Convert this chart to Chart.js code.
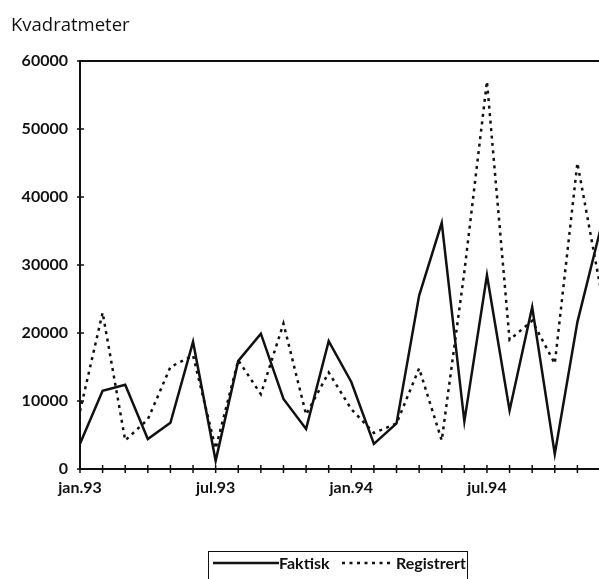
<!DOCTYPE html>
<html>
<head>
<meta charset="utf-8">
<script src="https://cdn.jsdelivr.net/npm/chart.js@4.4.1/dist/chart.umd.min.js"></script>
<style>
  html, body { margin: 0; padding: 0; background: #fff; overflow: hidden; width: 599px; height: 579px; }
  #wrap { position: absolute; left: 0; top: 0; width: 620px; height: 579px; }
  #title { position: absolute; left: 11px; top: 12px; font-family: "Open Sans", sans-serif; font-size: 18.5px; color: #111; line-height: 24px; }
  #legend { position: absolute; left: 208px; top: 551px; width: 260px; height: 40px; border: 1.5px solid #111; box-sizing: border-box; font-family: "Lato", "Open Sans", sans-serif; font-weight: bold; font-size: 16px; color: #111; }
  #legend .item { position: absolute; top: 1px; line-height: 20px; }
  #legend svg { position: absolute; }
</style>
</head>
<body>
<div id="wrap"><canvas id="c" width="620" height="579"></canvas></div>
<div id="title">Kvadratmeter</div>
<div id="legend">
  <svg style="left:4px;top:8px" width="66" height="6"><line x1="0" y1="3" x2="66" y2="3" stroke="#111" stroke-width="2.5"/></svg>
  <span class="item" style="left:70px">Faktisk</span>
  <svg style="left:131px;top:8px" width="54" height="6"><line x1="2" y1="3" x2="54" y2="3" stroke="#111" stroke-width="2.5" stroke-dasharray="3 4.5"/></svg>
  <span class="item" style="left:187px">Registrert</span>
</div>
<script>
const months = ['jan.93','feb.93','mar.93','apr.93','mai.93','jun.93','jul.93','aug.93','sep.93','okt.93','nov.93','des.93',
                'jan.94','feb.94','mar.94','apr.94','mai.94','jun.94','jul.94','aug.94','sep.94','okt.94','nov.94','des.94'];
const shownTickLabels = ['jan.93','jul.93','jan.94','jul.94'];
const faktisk =    [3700, 11500, 12400, 4400, 6800, 18700, 1200, 15900, 19900, 10300, 5900, 18800,
                    12800, 3700, 6700, 25500, 36200, 7000, 28500, 8600, 23800, 2200, 21600, 35000];
const registrert = [8500, 23000, 4200, 7300, 15000, 16700, 3000, 16000, 11000, 21400, 8000, 14200,
                    8800, 5300, 6700, 14800, 4200, 29000, 57000, 19000, 21800, 15500, 45000, 27000];
const yTicks = [0, 10000, 20000, 30000, 40000, 50000, 60000];

const tickFont = { family: 'Lato, "Open Sans", sans-serif', weight: 'bold', size: 16 };

const axisDecor = {
  id: 'axisDecor',
  afterDraw(chart) {
    const ctx = chart.ctx, a = chart.chartArea;
    const xs = chart.scales.x, ys = chart.scales.y;
    ctx.save();
    ctx.strokeStyle = '#111';
    ctx.lineWidth = 2;
    ctx.beginPath();
    ctx.moveTo(a.left - 1, a.top);
    ctx.lineTo(chart.width, a.top);
    ctx.stroke();
    ctx.lineWidth = 1.5;
    ctx.beginPath();
    for (let i = 0; i < months.length; i++) {
      const x = xs.getPixelForTick(i);
      ctx.moveTo(x, a.bottom - 4);
      ctx.lineTo(x, a.bottom + 4);
    }
    yTicks.forEach(v => {
      const y = ys.getPixelForValue(v);
      ctx.moveTo(a.left - 3, y);
      ctx.lineTo(a.left + 4, y);
    });
    ctx.stroke();
    ctx.restore();
  }
};

new Chart(document.getElementById('c'), {
  type: 'line',
  data: {
    labels: months,
    datasets: [
      { label: 'Faktisk', data: faktisk, borderColor: '#111', borderWidth: 2.5, pointRadius: 0, tension: 0, fill: false },
      { label: 'Registrert', data: registrert, borderColor: '#111', borderWidth: 2.5, borderDash: [3, 4.5], pointRadius: 0, tension: 0, fill: false }
    ]
  },
  options: {
    responsive: false,
    animation: false,
    events: [],
    layout: { padding: { top: 61, right: 20, bottom: 0, left: 0 } },
    plugins: { legend: { display: false }, tooltip: { enabled: false }, title: { display: false } },
    scales: {
      x: {
        type: 'category',
        offset: false,
        grid: { display: false, drawTicks: false },
        border: { display: true, color: '#111', width: 2 },
        ticks: {
          autoSkip: false, maxRotation: 0, padding: 9, color: '#111', font: tickFont,
          callback: function(v, i) { const l = months[i]; return shownTickLabels.includes(l) ? l : ''; }
        },
        afterFit(s) { s.height = 110; }
      },
      y: {
        min: 0, max: 60000,
        grid: { display: false, drawTicks: false },
        border: { display: true, color: '#111', width: 2 },
        ticks: { stepSize: 10000, padding: 12, color: '#111', font: tickFont, callback: v => String(v) },
        afterFit(s) { s.width = 80; }
      }
    }
  },
  plugins: [axisDecor]
});
</script>
</body>
</html>
